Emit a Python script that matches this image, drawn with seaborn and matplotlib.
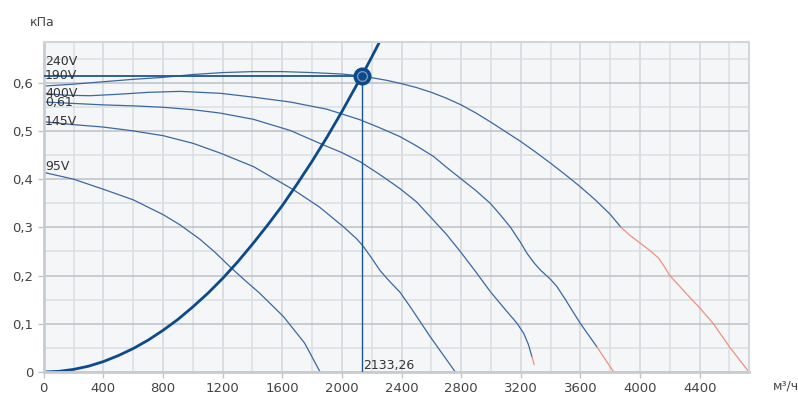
import numpy as np
import pandas as pd
import seaborn as sns
import matplotlib.pyplot as plt

# curve data (m3/h, kPa)
a_x = [0, 200, 400, 600, 800, 1000, 1200, 1400, 1600, 1800, 2000, 2133, 2300, 2400, 2500, 2600, 2700, 2800, 2900, 3000, 3100, 3200, 3300, 3400, 3500, 3600, 3700, 3800, 3870]
a_y = [0.593, 0.597, 0.602, 0.607, 0.611, 0.617, 0.621, 0.623, 0.623, 0.621, 0.618, 0.614, 0.605, 0.598, 0.590, 0.580, 0.568, 0.554, 0.537, 0.518, 0.498, 0.478, 0.456, 0.433, 0.409, 0.384, 0.357, 0.327, 0.301]
a_red_x = [3870, 3930, 3990, 4070, 4125, 4160, 4200, 4300, 4400, 4490, 4600, 4731]
a_red_y = [0.301, 0.284, 0.270, 0.251, 0.236, 0.220, 0.200, 0.166, 0.133, 0.101, 0.052, 0.0]

b_x = [0, 150, 311, 500, 700, 915, 1184, 1407, 1653, 1900, 2123, 2250, 2391, 2500, 2615, 2700, 2794, 2900, 2995, 3060, 3129, 3200, 3242, 3290, 3330, 3400, 3443, 3500, 3550, 3599, 3711]
b_y = [0.578, 0.574, 0.573, 0.576, 0.580, 0.582, 0.578, 0.570, 0.560, 0.545, 0.523, 0.507, 0.488, 0.469, 0.447, 0.425, 0.402, 0.376, 0.350, 0.327, 0.301, 0.268, 0.246, 0.226, 0.212, 0.192, 0.177, 0.150, 0.125, 0.101, 0.052]
b_red_x = [3711, 3823]
b_red_y = [0.052, 0.0]

c_x = [0, 200, 400, 600, 803, 1000, 1184, 1407, 1653, 1876, 2000, 2123, 2257, 2391, 2500, 2593, 2700, 2794, 2900, 2995, 3100, 3175, 3220, 3250, 3275]
c_y = [0.560, 0.557, 0.554, 0.552, 0.549, 0.544, 0.537, 0.524, 0.501, 0.471, 0.455, 0.436, 0.409, 0.380, 0.353, 0.322, 0.286, 0.250, 0.207, 0.167, 0.128, 0.101, 0.080, 0.058, 0.032]
c_red_x = [3275, 3290]
c_red_y = [0.032, 0.015]

d_x = [0, 200, 400, 601, 803, 1004, 1184, 1407, 1541, 1675, 1850, 2011, 2100, 2145, 2200, 2257, 2320, 2391, 2459, 2593, 2761]
d_y = [0.519, 0.513, 0.508, 0.500, 0.490, 0.474, 0.454, 0.426, 0.402, 0.378, 0.342, 0.301, 0.276, 0.260, 0.236, 0.210, 0.188, 0.165, 0.135, 0.073, 0.0]

e_x = [0, 199, 400, 601, 803, 915, 1049, 1150, 1250, 1350, 1450, 1608, 1750, 1854]
e_y = [0.414, 0.400, 0.379, 0.357, 0.326, 0.305, 0.275, 0.248, 0.218, 0.190, 0.163, 0.115, 0.060, 0.0]

# network curve
sys_x = [0, 100, 200, 300, 400, 500, 600, 700, 800, 900, 1000, 1100, 1200, 1300, 1400, 1500, 1600, 1700, 1800, 1900, 2000, 2133, 2200, 2250]
sys_y = [0, 0.0013, 0.0054, 0.012, 0.0216, 0.034, 0.0486, 0.066, 0.0864, 0.109, 0.135, 0.163, 0.194, 0.228, 0.265, 0.304, 0.345, 0.390, 0.437, 0.487, 0.540, 0.614, 0.653, 0.683]

op_x = 2133.26
op_y = 0.614

labels = ["240V", "190V", "400V", "0,61", "145V", "95V"]
label_y = [0.643, 0.614, 0.577, 0.559, 0.519, 0.426]

x_ticks = [0, 400, 800, 1200, 1600, 2000, 2400, 2800, 3200, 3600, 4000, 4400]
y_ticks = [0, 0.1, 0.2, 0.3, 0.4, 0.5, 0.6]

sns.set_theme(style="white")
plt.rcParams['font.family'] = ['DejaVu Sans']

fig = plt.figure(figsize=(7.98, 4.07), dpi=100)
ax = fig.add_axes([0.0548, 0.086, 0.8838, 0.8115])
ax.set_facecolor('#f4f6f8')

blue = '#3a68a3'
red = '#ef8f80'
dark = '#0c4a8a'

for xs, ys in [(a_x, a_y), (b_x, b_y), (c_x, c_y), (d_x, d_y), (e_x, e_y)]:
    sns.lineplot(x=xs, y=ys, ax=ax, color=blue, lw=0.9, sort=False, estimator=None)
for xs, ys in [(a_red_x, a_red_y), (b_red_x, b_red_y), (c_red_x, c_red_y)]:
    sns.lineplot(x=xs, y=ys, ax=ax, color=red, lw=0.9, sort=False, estimator=None)

sns.lineplot(x=sys_x, y=sys_y, ax=ax, color=dark, lw=2, sort=False, estimator=None)

# operating point guide lines
ax.plot([0, op_x], [op_y, op_y], color='#1f5592', lw=1.3, zorder=4)
ax.plot([op_x, op_x], [0, op_y], color='#1f5592', lw=1.0, zorder=4)
ax.plot(op_x, op_y, 'o', ms=12, mfc=dark, mec=dark, zorder=5)
ax.plot(op_x, op_y, 'o', ms=7, mfc='none', mec='#7f9cc2', mew=0.9, zorder=6)
ax.text(op_x + 12, 0.013, "2133,26", fontsize=9, color='#333333', va='center', ha='left')

for t, ly in zip(labels, label_y):
    ax.text(9, ly, t, fontsize=9, color='#333333', va='center', ha='left', zorder=7)

ax.set_xlim(0, 4731)
ax.set_ylim(0, 0.685)
ax.set_xticks(x_ticks)
ax.set_yticks(y_ticks)
ax.set_xticks(np.arange(200, 4731, 400), minor=True)
ax.set_yticks([0.05, 0.15, 0.25, 0.35, 0.45, 0.55, 0.65], minor=True)
ax.set_yticklabels([str(round(v, 1)).replace('.', ',') if v else "0" for v in y_ticks])
ax.set_xticklabels([str(v) for v in x_ticks])
ax.grid(which='major', axis='y', color='#bcc0c6', lw=1.1)
ax.grid(which='minor', axis='y', color='#dcdfe3', lw=1.1)
ax.grid(which='major', axis='x', color='#d3d6da', lw=1.1)
ax.grid(which='minor', axis='x', color='#dcdfe3', lw=1.1)
ax.set_axisbelow(True)
ax.tick_params(axis='both', which='major', labelsize=9.5, labelcolor='#444444',
               color='#c0c4c8', length=4, width=1, left=True, bottom=True)
ax.tick_params(which='minor', length=0)
for s in ax.spines.values():
    s.set_color('#d3d6da')
    s.set_linewidth(1.5)
ax.spines['left'].set_color('#c8ccd1')
ax.spines['bottom'].set_color('#c8ccd1')
ax.spines['left'].set_linewidth(2)
ax.spines['bottom'].set_linewidth(2)

fig.text(0.038, 0.945, "кПа", fontsize=9, color='#444444', ha='left', va='center')
fig.text(0.968, 0.051, "м³/ч", fontsize=9, color='#444444', ha='left', va='center')

fig.savefig("out.png", dpi=100)
